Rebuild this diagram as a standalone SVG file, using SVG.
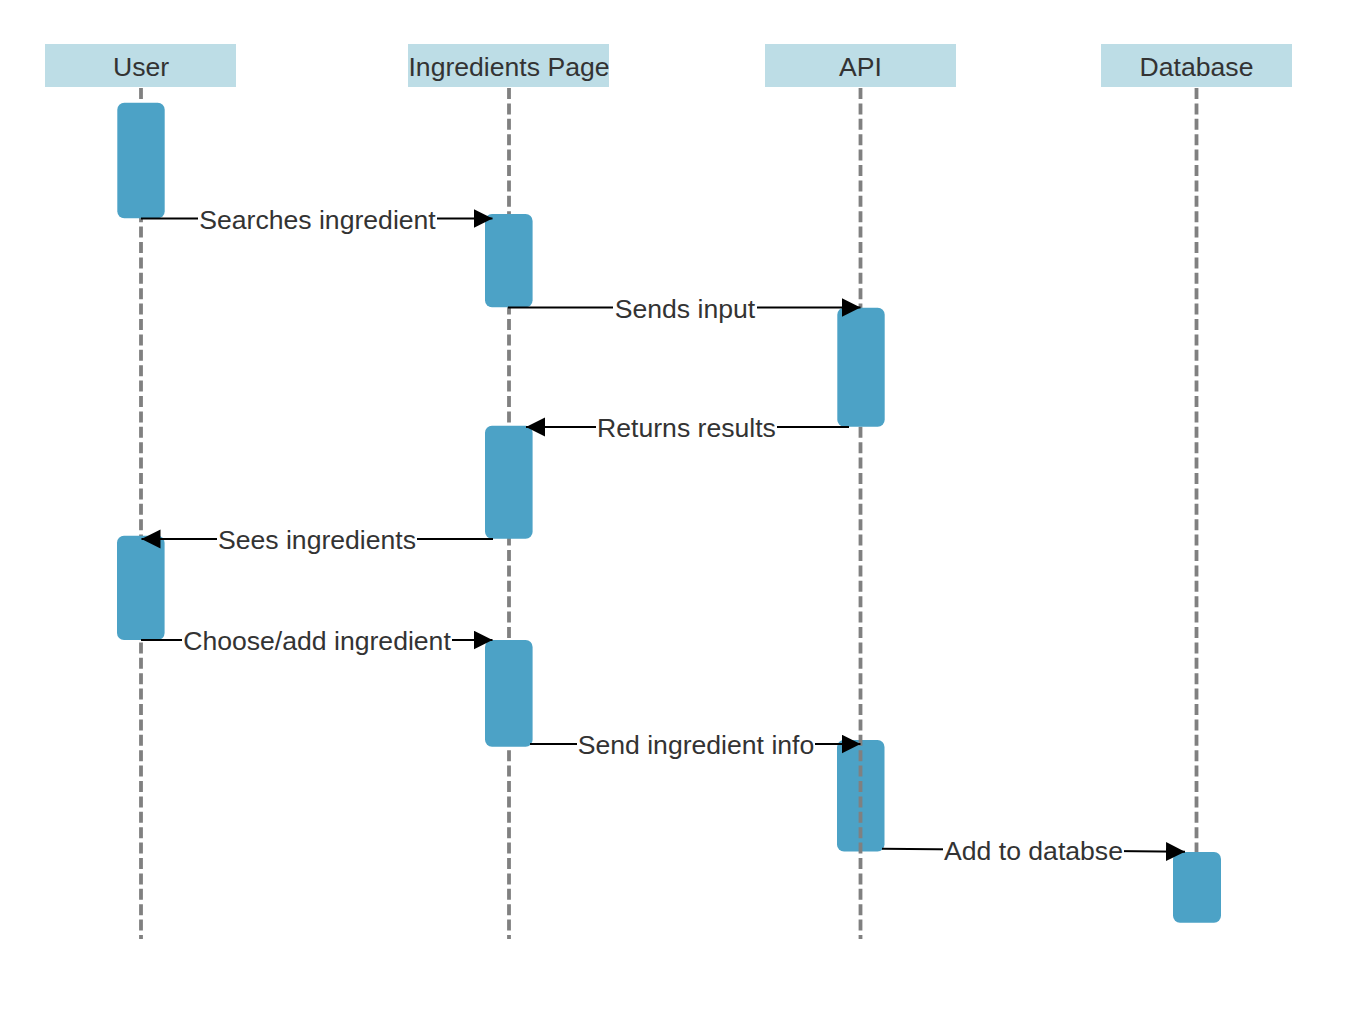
<svg xmlns="http://www.w3.org/2000/svg" width="1346" height="1016" viewBox="0 0 1346 1016">
<style>
.hdr{fill:#bddde6}
.life{stroke:#808080;stroke-width:3.8;stroke-dasharray:11 4.4;fill:none}
.act{fill:#4ca2c6}
.msg{stroke:#000;stroke-width:2;fill:none}
.txt{font-family:"Liberation Sans",Arial,Helvetica,sans-serif;font-size:26.6px;fill:#333;text-anchor:middle}
.lblbg{fill:#fff}
</style>
<defs>
<marker id="arr" markerUnits="userSpaceOnUse" markerWidth="20" markerHeight="20" refX="19" refY="9.5" orient="auto">
<path d="M0,0 L19,9.5 L0,19 Z" fill="#000"/>
</marker>
</defs>
<rect width="1346" height="1016" fill="#fff"/>
<g id="activations-under">
<rect class="act" x="837" y="740" width="47.5" height="111.5" rx="7"/>
</g>
<g id="user">
<rect class="hdr" x="45" y="44" width="191" height="43"/>
<text class="txt" x="141" y="75.5">User</text>
<line class="life" x1="141" y1="88" x2="141" y2="939"/>
</g>
<g id="ingredients-page">
<rect class="hdr" x="408" y="44" width="201" height="43"/>
<text class="txt" x="509" y="75.5">Ingredients Page</text>
<line class="life" x1="509" y1="88" x2="509" y2="939"/>
</g>
<g id="api">
<rect class="hdr" x="765" y="44" width="191" height="43"/>
<text class="txt" x="860.5" y="75.5">API</text>
<line class="life" x1="860.5" y1="88" x2="860.5" y2="939"/>
</g>
<g id="database">
<rect class="hdr" x="1101" y="44" width="191" height="43"/>
<text class="txt" x="1196.5" y="75.5">Database</text>
<line class="life" x1="1196.5" y1="88" x2="1196.5" y2="853"/>
</g>
<g id="activations">
<rect class="act" x="117.3" y="102.7" width="47.4" height="115.6" rx="7"/>
<rect class="act" x="485" y="214" width="47.6" height="93.3" rx="7"/>
<rect class="act" x="837.3" y="307.7" width="47.4" height="119" rx="7"/>
<rect class="act" x="485" y="425.7" width="47.6" height="113" rx="7"/>
<rect class="act" x="117" y="535.7" width="47.6" height="104.3" rx="7"/>
<rect class="act" x="485" y="640" width="47.6" height="106.7" rx="7"/>
<rect class="act" x="1173" y="852" width="48" height="70.7" rx="7"/>
</g>
<g id="connectors">
<g id="m1">
<line class="msg" x1="141" y1="218.5" x2="492.5" y2="218.5" marker-end="url(#arr)"/>
<rect class="lblbg" x="198" y="206" width="239" height="28"/>
<text class="txt" x="317.5" y="228.5">Searches ingredient</text>
</g>
<g id="m2">
<line class="msg" x1="508" y1="307.5" x2="860.5" y2="307.5" marker-end="url(#arr)"/>
<rect class="lblbg" x="613" y="295" width="144" height="28"/>
<text class="txt" x="685" y="317.5">Sends input</text>
</g>
<g id="m3">
<line class="msg" x1="849" y1="427" x2="526" y2="427" marker-end="url(#arr)"/>
<rect class="lblbg" x="596" y="414" width="181" height="28"/>
<text class="txt" x="686.5" y="437">Returns results</text>
</g>
<g id="m4">
<line class="msg" x1="493" y1="539" x2="141.5" y2="539" marker-end="url(#arr)"/>
<rect class="lblbg" x="217" y="526" width="200" height="28"/>
<text class="txt" x="317" y="549">Sees ingredients</text>
</g>
<g id="m5">
<line class="msg" x1="141" y1="640" x2="492.5" y2="640" marker-end="url(#arr)"/>
<rect class="lblbg" x="182" y="627" width="270" height="28"/>
<text class="txt" x="317" y="650">Choose/add ingredient</text>
</g>
<g id="m6">
<line class="msg" x1="530" y1="744" x2="860.5" y2="744" marker-end="url(#arr)"/>
<rect class="lblbg" x="577" y="731" width="238" height="28"/>
<text class="txt" x="696" y="754">Send ingredient info</text>
</g>
<g id="m7">
<line class="msg" x1="882" y1="848.7" x2="1185" y2="851.7" marker-end="url(#arr)"/>
<rect class="lblbg" x="943" y="837" width="181" height="28"/>
<text class="txt" x="1033.5" y="860">Add to databse</text>
</g>
</g>
</svg>
